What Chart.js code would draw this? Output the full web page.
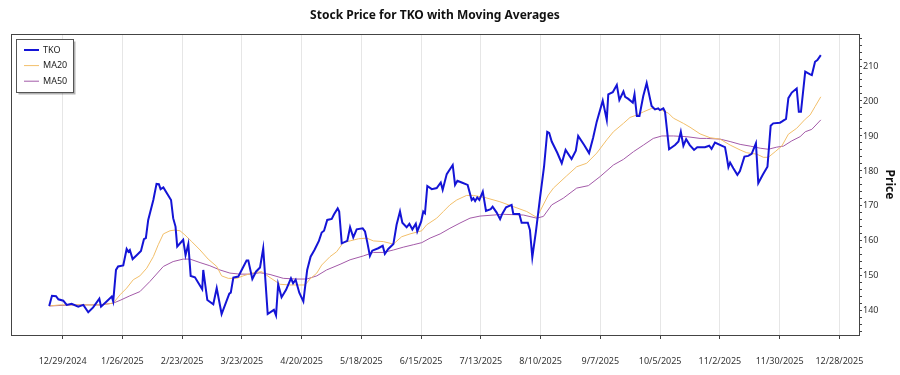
<!DOCTYPE html>
<html>
<head>
<meta charset="utf-8">
<script src="https://cdn.jsdelivr.net/npm/chart.js@4.4.1/dist/chart.umd.min.js"></script>
<style>
  html, body { margin: 0; padding: 0; background: #fff; }
  #wrap { width: 900px; height: 375px; }
</style>
</head>
<body>
<div id="wrap"><canvas id="price-chart" width="900" height="375"></canvas></div>
<script>
// x values are days counted from 12/29/2024 (first tick)
const startDate = Date.UTC(2024, 11, 29);

const tkoDay = [-6.3, -5, -3.1, -2, 0.3, 1.9, 4.2, 7.3, 9.7, 12, 14.3, 17.2, 18, 20.6, 23, 23.7, 25, 26, 28.4, 30,
  30.8, 31.5, 32.8, 34.7, 36.7, 38.1, 39, 40.1, 42.5, 44, 45.1, 45.9, 47.2, 50.8, 51.8, 52.9, 53.7, 56.5, 57.6, 58.9,
  60, 62, 65.4, 65.9, 67.8, 70.6, 72.2, 74.5, 78.1, 78.8, 80, 82.3, 83.9, 86.2, 87, 88.9, 90.6, 92.5, 94, 96.1,
  99, 100, 101, 102.6, 104.7, 107, 108, 109.2, 110.9, 112.8, 114.6, 116.2, 118, 120.1, 121.4, 122.5, 124, 126.1, 127.2, 128.9,
  129.6, 130.8, 133.4, 134.7, 136.2, 137.8, 140.6, 141.7, 142.8, 144, 145.1, 147.9, 150, 151, 152.6, 155, 156.5, 158.1, 159.2, 161.2,
  162.5, 163.9, 165.5, 166.2, 168, 169, 169.8, 170.9, 173, 175.3, 177.2, 178.1, 180, 182.8, 183.9, 185, 187, 189.8, 191.7, 192.5,
  193.3, 194.3, 195.3, 196.9, 198.4, 200.6, 201.5, 203.4, 205, 206, 207.8, 210.4, 211.2, 214, 215.1, 218, 219, 220.1, 221.8, 223.7,
  225.6, 227.1, 228, 229.2, 231.8, 233.9, 235.7, 238.5, 240.5, 241.6, 244.4, 246.7, 248.6, 250.3, 253.1, 255, 255.7, 257.8, 259.7, 260.9,
  262.8, 263.6, 265.1, 267.2, 268, 269.1, 270.3, 272.1, 273.7, 276, 277.6, 279.1, 279.9, 281.5, 282.3, 284.2, 287, 288.6, 289.7, 290.9,
  292.2, 293.9, 295.9, 297.4, 301, 303, 304.1, 305.7, 309.3, 310.4, 311.2, 312, 312.8, 314.3, 316.2, 317.4, 319.5, 321.3, 322.9, 324.9,
  326, 328.1, 330.3, 331.8, 333, 336.2, 337, 339, 340.1, 341.7, 344, 345, 346, 348, 350.3, 351.1, 352.6, 353.7, 355.3];
const tkoClose = [141.4, 144.3, 144.2, 143.3, 142.9, 141.7, 142.0, 141.2, 141.7, 139.6, 141.0, 143.5, 141.2, 142.7, 144.1, 142.7, 151.7, 152.7, 153.0, 157.7,
  156.9, 157.4, 154.8, 155.9, 157.1, 160.5, 160.8, 166.0, 171.7, 176.3, 176.2, 174.8, 175.3, 171.7, 166.5, 164.1, 158.4, 160.3, 155.9, 159.1,
  150.0, 149.6, 146.2, 151.7, 143.1, 141.9, 146.5, 139.1, 144.9, 145.2, 149.5, 149.8, 151.7, 154.4, 154.4, 149.1, 151.2, 152.4, 157.9, 139.1,
  140.3, 138.7, 147.6, 143.9, 146.0, 149.3, 147.9, 148.9, 145.2, 142.7, 151.7, 155.5, 157.4, 160.0, 162.4, 162.9, 166.0, 166.3, 167.6, 169.3,
  168.4, 159.3, 160.0, 163.9, 161.0, 163.3, 163.6, 162.7, 159.5, 155.7, 157.2, 157.9, 158.6, 156.3, 157.7, 159.1, 164.6, 168.4, 165.2, 163.9,
  164.9, 163.3, 164.9, 162.7, 165.5, 168.4, 167.9, 175.7, 174.8, 175.1, 176.7, 174.6, 179.1, 181.7, 176.0, 177.2, 176.7, 176.0, 171.7, 172.2,
  171.4, 172.4, 171.7, 174.1, 168.6, 169.1, 169.8, 168.1, 166.2, 167.7, 169.6, 170.3, 167.7, 167.7, 165.2, 165.2, 163.1, 155.3, 162.7, 172.2,
  181.2, 191.2, 190.9, 188.4, 185.2, 182.2, 186.0, 183.4, 185.8, 190.0, 187.4, 185.1, 189.5, 194.1, 200.1, 194.6, 201.9, 202.5, 204.6, 200.3,
  202.7, 201.2, 200.6, 199.5, 201.9, 195.7, 195.7, 201.4, 205.1, 198.6, 197.6, 197.9, 197.4, 197.9, 196.9, 186.2, 187.4, 188.4, 191.2, 187.2,
  189.1, 187.4, 186.0, 186.8, 186.8, 187.2, 186.3, 188.1, 187.1, 186.8, 184.1, 181.1, 182.4, 180.8, 178.9, 180.0, 184.1, 184.3, 184.9, 187.9,
  176.5, 178.9, 181.2, 192.9, 193.6, 193.8, 194.1, 194.9, 200.8, 202.4, 203.6, 196.9, 196.9, 208.4, 207.6, 207.4, 211.2, 211.7, 213.1];

const ma20Day = [-6.3, -1.3, 8, 17.5, 23.7, 26.9, 30, 33.1, 36.2, 39.4, 42.5, 44.8, 47.2, 50.3, 52.6, 55, 57.3, 60.5, 64.4, 68.2,
  72.2, 74.5, 77.6, 81.6, 84.6, 89.3, 93.3, 97.2, 101.9, 106.5, 111.2, 113.6, 115.9, 119.1, 121.4, 125.3, 128.4, 131.5, 134.7, 138.6,
  142.5, 145.6, 150.3, 155, 158.9, 162.8, 168.3, 170.6, 175.3, 178.4, 181.5, 184.7, 189.3, 192.5, 197.9, 204.9, 211.2, 217.5, 222.2, 227.6,
  230, 236.2, 240.9, 245.6, 250.3, 255, 258.1, 262.8, 265.9, 269.1, 272.2, 276.1, 280.8, 283.9, 286.2, 290.9, 294, 298.7, 303.4, 308.1,
  312.8, 317.5, 320.6, 325.3, 328.4, 330.7, 333.9, 337, 340.1, 344, 348, 350.3, 352.6, 355.3];
const ma20 = [141.4, 141.7, 141.7, 141.7, 142.2, 144.6, 146.5, 148.9, 150.0, 152.2, 155.5, 158.9, 162.0, 162.9, 163.1, 162.9, 161.7, 159.8, 157.4, 154.8,
  152.7, 150.0, 149.3, 149.3, 150.0, 150.9, 151.2, 149.5, 147.6, 147.4, 147.4, 147.4, 149.1, 150.8, 153.1, 155.5, 156.9, 159.5, 160.0, 160.6,
  160.8, 160.0, 159.8, 159.1, 161.2, 162.0, 162.9, 164.6, 166.5, 168.4, 170.3, 171.7, 173.0, 173.0, 172.4, 171.2, 169.8, 168.4, 166.7, 173.1,
  175.1, 178.6, 181.2, 182.2, 185.1, 188.9, 191.2, 193.6, 195.3, 196.0, 196.9, 197.9, 197.4, 196.5, 195.1, 193.6, 192.5, 190.6, 189.5, 189.1,
  187.4, 186.0, 185.2, 184.8, 183.9, 183.9, 185.5, 187.1, 190.5, 192.2, 194.8, 196.0, 198.4, 201.2];

const ma50Day = [-6.3, 5, 17.5, 23.7, 26.9, 31.5, 36.2, 40.9, 47.2, 51.8, 56.5, 59.7, 64.4, 69, 73.7, 78.4, 83.1, 87.8, 92.5, 97.2,
  103.4, 109.7, 114.4, 119.1, 123.7, 130, 134.7, 140.9, 145.6, 150.3, 155, 159.6, 164.3, 168.3, 172.2, 176.9, 181.5, 186.2, 190.9, 195.6,
  206.5, 215.9, 222.2, 225.3, 229.2, 234.6, 240.9, 246.4, 251.9, 258.1, 262.8, 267.5, 272.2, 276.8, 280.8, 286.2, 292.5, 298.7, 301.8, 308.1,
  312.8, 317.5, 322.2, 326.9, 330.7, 334.6, 337.8, 341.7, 345.6, 348, 351.1, 355.3];
const ma50 = [141.4, 141.7, 141.7, 142.2, 143.0, 144.3, 145.5, 148.4, 152.7, 154.1, 154.8, 154.8, 153.8, 152.9, 151.7, 150.8, 150.5, 150.5, 150.9, 150.4,
  149.3, 149.1, 149.1, 150.0, 151.7, 153.3, 154.6, 155.7, 156.7, 156.7, 157.4, 158.2, 158.9, 159.5, 160.8, 162.0, 163.6, 165.1, 166.5, 167.1,
  167.6, 167.4, 166.5, 167.0, 170.3, 172.2, 175.1, 175.8, 178.4, 181.7, 183.3, 185.5, 187.4, 189.3, 190.0, 190.0, 189.8, 189.3, 189.3, 189.1,
  188.4, 187.6, 187.1, 186.5, 186.2, 186.8, 187.1, 188.6, 189.8, 191.2, 191.9, 194.6];

const toPoints = (xs, ys) => xs.map((x, i) => ({ x: x, y: ys[i] }));

function fmtDate(v) {
  const d = new Date(startDate + v * 86400000);
  return (d.getUTCMonth() + 1) + '/' + d.getUTCDate() + '/' + d.getUTCFullYear();
}

const FONT = 'Noto Sans';

// legend box drawn inside the plot, top left
const boxLegend = {
  id: 'boxLegend',
  afterDraw(chart) {
    const ctx = chart.ctx;
    const x = 16.5, y = 39.5, w = 57, h = 53;
    ctx.save();
    ctx.fillStyle = 'rgba(0,0,0,0.3)';
    ctx.fillRect(x + 2, y + 2, w, h);
    ctx.fillStyle = '#fff';
    ctx.fillRect(x, y, w, h);
    ctx.strokeStyle = '#555';
    ctx.lineWidth = 1;
    ctx.strokeRect(x, y, w, h);
    ctx.font = '9px "' + FONT + '"';
    ctx.textBaseline = 'middle';
    chart.data.datasets.forEach((ds, i) => {
      const ly = 50 + i * 15.6;
      ctx.strokeStyle = ds.borderColor;
      ctx.lineWidth = ds.borderWidth;
      ctx.beginPath();
      ctx.moveTo(24, ly);
      ctx.lineTo(39, ly);
      ctx.stroke();
      ctx.fillStyle = '#222';
      ctx.fillText(ds.label, 43, ly);
    });
    ctx.restore();
  }
};

// box around the plot area
const frame = {
  id: 'frame',
  afterDatasetsDraw(chart) {
    const a = chart.chartArea;
    const ctx = chart.ctx;
    ctx.save();
    ctx.strokeStyle = '#444';
    ctx.lineWidth = 1;
    ctx.strokeRect(Math.round(a.left) + 0.5, Math.round(a.top) + 0.5, Math.round(a.right - a.left), Math.round(a.bottom - a.top));
    ctx.restore();
  }
};

const data = {
  datasets: [
    { label: 'TKO', data: toPoints(tkoDay, tkoClose), borderColor: '#1414d6', borderWidth: 2 },
    { label: 'MA20', data: toPoints(ma20Day, ma20), borderColor: '#f2bf6a', borderWidth: 1 },
    { label: 'MA50', data: toPoints(ma50Day, ma50), borderColor: '#a35aa8', borderWidth: 1 }
  ]
};

new Chart(document.getElementById('price-chart'), {
  type: 'line',
  data: data,
  plugins: [frame, boxLegend],
  options: {
    responsive: false,
    animation: false,
    layout: { padding: { left: 11, top: 0, right: 0, bottom: 0 } },
    elements: { point: { radius: 0 }, line: { tension: 0 } },
    plugins: {
      legend: { display: false },
      tooltip: { enabled: false },
      title: {
        display: true,
        text: 'Stock Price for TKO with Moving Averages',
        fullSize: false,
        color: '#111',
        font: { family: FONT, size: 12, weight: 'bold' },
        padding: { top: 8, bottom: 11.6 }
      }
    },
    scales: {
      x: {
        type: 'linear',
        min: -24.2,
        max: 373.2,
        grid: { color: '#e6e6e6', tickColor: '#444', tickLength: 4 },
        border: { display: false },
        ticks: {
          stepSize: 28,
          includeBounds: false,
          autoSkip: false,
          maxRotation: 0,
          padding: 17,
          color: '#333',
          font: { family: FONT, size: 9 },
          callback: (v) => fmtDate(v)
        },
        afterFit: (s) => { s.height = 40; }
      },
      y: {
        position: 'right',
        min: 133.1,
        max: 219.15,
        grid: { drawOnChartArea: false, tickColor: '#444', tickLength: 3 },
        border: { display: false },
        ticks: {
          stepSize: 2,
          includeBounds: false,
          autoSkip: false,
          padding: 1,
          color: '#333',
          font: { family: FONT, size: 9 },
          callback: (v) => (v % 10 === 0 ? v : '')
        },
        title: {
          display: true,
          text: 'Price',
          color: '#111',
          font: { family: FONT, size: 12, weight: 'bold' },
          padding: { top: 3, bottom: 0 }
        },
        afterFit: (s) => { s.width = 41; }
      }
    }
  }
});
</script>
</body>
</html>
